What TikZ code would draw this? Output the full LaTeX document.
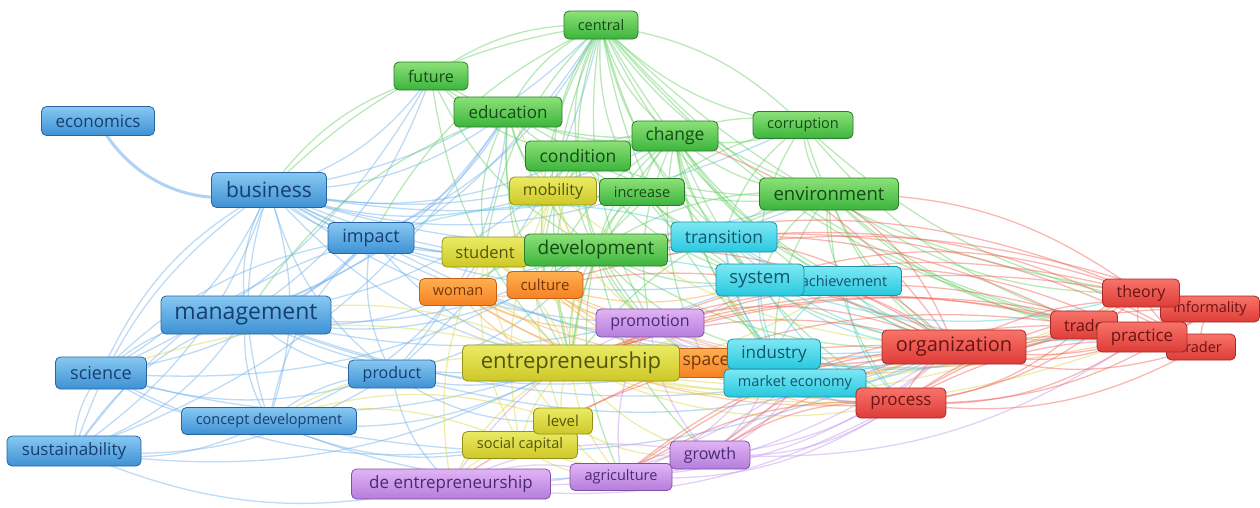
\documentclass[tikz,border=0pt]{standalone}
\usepackage{fontspec}
\setmainfont{Open Sans}
\usepackage{tikz}
\usetikzlibrary{shadings}

\pgfdeclarelayer{links}
\pgfsetlayers{links,main}

\newcommand\kwfont[1]{\fontsize{#1}{#1}\selectfont}

\definecolor{bTop}{RGB}{135,200,242}\definecolor{bBot}{RGB}{62,145,212}
\definecolor{bLine}{RGB}{40,100,160}\definecolor{bText}{RGB}{22,62,110}
\definecolor{bLink}{RGB}{110,175,235}
\definecolor{gTop}{RGB}{140,225,120}\definecolor{gBot}{RGB}{60,180,60}
\definecolor{gLine}{RGB}{40,125,40}\definecolor{gText}{RGB}{20,75,20}
\definecolor{gLink}{RGB}{100,205,100}
\definecolor{yTop}{RGB}{235,235,100}\definecolor{yBot}{RGB}{205,200,40}
\definecolor{yLine}{RGB}{150,145,20}\definecolor{yText}{RGB}{85,85,10}
\definecolor{yLink}{RGB}{215,215,70}
\definecolor{oTop}{RGB}{255,175,80}\definecolor{oBot}{RGB}{245,130,35}
\definecolor{oLine}{RGB}{195,95,25}\definecolor{oText}{RGB}{115,55,10}
\definecolor{oLink}{RGB}{250,160,70}
\definecolor{pTop}{RGB}{225,180,245}\definecolor{pBot}{RGB}{180,125,220}
\definecolor{pLine}{RGB}{130,80,170}\definecolor{pText}{RGB}{75,40,115}
\definecolor{pLink}{RGB}{195,150,235}
\definecolor{cTop}{RGB}{125,232,245}\definecolor{cBot}{RGB}{40,200,222}
\definecolor{cLine}{RGB}{30,140,165}\definecolor{cText}{RGB}{20,85,105}
\definecolor{cLink}{RGB}{70,205,225}
\definecolor{rTop}{RGB}{248,115,105}\definecolor{rBot}{RGB}{222,60,55}
\definecolor{rLine}{RGB}{165,40,40}\definecolor{rText}{RGB}{105,20,20}
\definecolor{rLink}{RGB}{242,95,85}

\tikzset{
  term/.style={rounded corners=5pt,inner sep=0pt,line width=0.8pt},
  blueterm/.style={term,draw=bLine,top color=bTop,bottom color=bBot,text=bText},
  greenterm/.style={term,draw=gLine,top color=gTop,bottom color=gBot,text=gText},
  yellowterm/.style={term,draw=yLine,top color=yTop,bottom color=yBot,text=yText},
  orangeterm/.style={term,draw=oLine,top color=oTop,bottom color=oBot,text=oText},
  purpleterm/.style={term,draw=pLine,top color=pTop,bottom color=pBot,text=pText},
  cyanterm/.style={term,draw=cLine,top color=cTop,bottom color=cBot,text=cText},
  redterm/.style={term,draw=rLine,top color=rTop,bottom color=rBot,text=rText},
  links/.style={every edge/.style={draw=#1,line width=1.3pt,draw opacity=.45,bend right=18}},
}

\begin{document}
\begin{tikzpicture}[x=1pt,y=-1pt]
\useasboundingbox (0,0) rectangle (1260,507);
%% blue
\node (economics) at (98,121) [blueterm,minimum width=113pt,minimum height=29pt,font=\kwfont{17}] {economics};
\node (business) at (269,190) [blueterm,minimum width=115pt,minimum height=35pt,font=\kwfont{21}] {business};
\node (impact) at (371,238) [blueterm,minimum width=86pt,minimum height=31pt,font=\kwfont{18}] {impact};
\node (management) at (246,315) [blueterm,minimum width=170pt,minimum height=38pt,font=\kwfont{23}] {management};
\node (science) at (101,373) [blueterm,minimum width=91pt,minimum height=32pt,font=\kwfont{18}] {science};
\node (product) at (392,374) [blueterm,minimum width=87pt,minimum height=28pt,font=\kwfont{16}] {product};
\node (conceptdev) at (269,421) [blueterm,minimum width=175pt,minimum height=27pt,font=\kwfont{14.5}] {concept development};
\node (sustainability) at (74,451) [blueterm,minimum width=134pt,minimum height=30pt,font=\kwfont{17}] {sustainability};
%% green
\node (central) at (601,25) [greenterm,minimum width=74pt,minimum height=28pt,font=\kwfont{14.5}] {central};
\node (future) at (431,76) [greenterm,minimum width=74pt,minimum height=28pt,font=\kwfont{16}] {future};
\node (education) at (508,112) [greenterm,minimum width=108pt,minimum height=30pt,font=\kwfont{17}] {education};
\node (change) at (675,136) [greenterm,minimum width=86pt,minimum height=30pt,font=\kwfont{17.5}] {change};
\node (corruption) at (803,125) [greenterm,minimum width=100pt,minimum height=27pt,font=\kwfont{14.5}] {corruption};
\node (condition) at (578,156) [greenterm,minimum width=105pt,minimum height=30pt,font=\kwfont{17.5}] {condition};
\node (increase) at (642,192) [greenterm,minimum width=85pt,minimum height=27pt,font=\kwfont{14.5}] {increase};
\node (environment) at (829,194) [greenterm,minimum width=139pt,minimum height=32pt,font=\kwfont{18.5}] {environment};
%% yellow
\node (mobility) at (553,191) [yellowterm,minimum width=87pt,minimum height=28pt,font=\kwfont{16}] {mobility};
\node (student) at (485,252) [yellowterm,minimum width=86pt,minimum height=30pt,font=\kwfont{16.5}] {student};
\node (development) at (596,250) [greenterm,minimum width=143pt,minimum height=32pt,font=\kwfont{19}] {development};
\node (socialcap) at (520,445) [yellowterm,minimum width=115pt,minimum height=27pt,font=\kwfont{14.5}] {social capital};
\node (level) at (563,421) [yellowterm,minimum width=59pt,minimum height=26pt,font=\kwfont{15}] {level};
%% orange
\node (woman) at (458,292) [orangeterm,minimum width=77pt,minimum height=27pt,font=\kwfont{14.5}] {woman};
\node (culture) at (545,285) [orangeterm,minimum width=76pt,minimum height=27pt,font=\kwfont{15}] {culture};
\node (space) at (706,363) [orangeterm,minimum width=72pt,minimum height=29pt,font=\kwfont{17.5}] {space};
\node (entrepreneurship) at (571,363) [yellowterm,minimum width=217pt,minimum height=36pt,font=\kwfont{22}] {entrepreneurship};
%% purple
\node (promotion) at (650,323) [purpleterm,minimum width=108pt,minimum height=28pt,font=\kwfont{16}] {promotion};
\node (deentre) at (451,484) [purpleterm,minimum width=199pt,minimum height=30pt,font=\kwfont{17}] {de entrepreneurship};
\node (agriculture) at (621,477) [purpleterm,minimum width=102pt,minimum height=27pt,font=\kwfont{14.5}] {agriculture};
\node (growth) at (710,455) [purpleterm,minimum width=80pt,minimum height=28pt,font=\kwfont{16}] {growth};
%% cyan
\node (transition) at (724,237) [cyanterm,minimum width=106pt,minimum height=30pt,font=\kwfont{17.5}] {transition};
\node (achievement) at (844,281) [cyanterm,minimum width=115pt,minimum height=29pt,font=\kwfont{14.5}] {achievement};
\node (system) at (760,280) [cyanterm,minimum width=88pt,minimum height=32pt,font=\kwfont{18.5}] {system};
\node (marketeco) at (795,383) [cyanterm,minimum width=142pt,minimum height=28pt,font=\kwfont{14.5}] {market economy};
\node (industry) at (774,354) [cyanterm,minimum width=93pt,minimum height=30pt,font=\kwfont{17}] {industry};
%% red
\node (process) at (901,403) [redterm,minimum width=90pt,minimum height=30pt,font=\kwfont{17}] {process};
\node (organization) at (954,347) [redterm,minimum width=144pt,minimum height=34pt,font=\kwfont{20}] {organization};
\node (informality) at (1210,309) [redterm,minimum width=99pt,minimum height=26pt,font=\kwfont{14.5}] {informality};
\node (theory) at (1141,293) [redterm,minimum width=77pt,minimum height=28pt,font=\kwfont{16}] {theory};
\node (trade) at (1084,325) [redterm,minimum width=67pt,minimum height=28pt,font=\kwfont{16}] {trade};
\node (trader) at (1201,347) [redterm,minimum width=69pt,minimum height=26pt,font=\kwfont{14.5}] {trader};
\node (practice) at (1142,337) [redterm,minimum width=90pt,minimum height=30pt,font=\kwfont{17}] {practice};
%%
\begin{pgfonlayer}{links}
\draw [bLink,line width=3pt,opacity=.55] (economics.center) to[bend right=40] (business.center);
\begin{scope}[links=bLink]
\path (business.center) edge (impact.center) edge (management.center) edge (science.center)
  edge (sustainability.center) edge (conceptdev.center) edge (product.center)
  edge (entrepreneurship.center) edge (development.center) edge (education.center)
  edge (condition.center) edge (central.center) edge (future.center) edge (change.center)
  edge (environment.center) edge (organization.center) edge (system.center)
  edge (student.center) edge (mobility.center) edge (transition.center) edge (promotion.center)
  edge (increase.center) edge (corruption.center);
\path (management.center) edge (science.center) edge (sustainability.center) edge (conceptdev.center)
  edge (product.center) edge (impact.center) edge (entrepreneurship.center) edge (development.center)
  edge (organization.center) edge (culture.center) edge (woman.center) edge (system.center)
  edge (industry.center) edge (condition.center) edge (central.center) edge (education.center)
  edge (future.center);
\path (impact.center) edge (product.center) edge (entrepreneurship.center) edge (development.center)
  edge (education.center) edge (environment.center) edge (organization.center)
  edge (science.center) edge (conceptdev.center) edge (sustainability.center) edge (central.center);
\path (science.center) edge (sustainability.center) edge (conceptdev.center) edge (product.center)
  edge (entrepreneurship.center) edge (development.center) edge (socialcap.center)
  edge (business.center) edge (future.center) edge (impact.center);
\path (sustainability.center) edge (conceptdev.center) edge (product.center)
  edge (entrepreneurship.center) edge (management.center) edge (business.center)
  edge (education.center) edge (deentre.center);
\path (product.center) edge (entrepreneurship.center) edge (development.center)
  edge (conceptdev.center) edge (organization.center) edge (level.center) edge (deentre.center)
  edge (central.center) edge (education.center);
\path (conceptdev.center) edge (entrepreneurship.center) edge (socialcap.center)
  edge (growth.center) edge (organization.center) edge (business.center) edge (student.center);
\end{scope}
\begin{scope}[links=gLink]
\path (central.center) edge (education.center) edge (change.center) edge (condition.center)
  edge (development.center) edge (environment.center) edge (corruption.center)
  edge (increase.center) edge (mobility.center) edge (entrepreneurship.center)
  edge (organization.center) edge (business.center) edge (transition.center)
  edge (system.center) edge (industry.center) edge (practice.center) edge (trade.center)
  edge (future.center) edge (student.center) edge (culture.center) edge (promotion.center)
  edge (achievement.center) edge (impact.center) edge (theory.center);
\path (future.center) edge (education.center) edge (business.center) edge (development.center)
  edge (entrepreneurship.center) edge (condition.center) edge (change.center);
\path (education.center) edge (condition.center) edge (development.center)
  edge (entrepreneurship.center) edge (student.center) edge (mobility.center)
  edge (culture.center) edge (management.center) edge (change.center) edge (environment.center);
\path (change.center) edge (condition.center) edge (development.center) edge (environment.center)
  edge (increase.center) edge (transition.center) edge (system.center) edge (industry.center)
  edge (entrepreneurship.center) edge (organization.center) edge (marketeco.center)
  edge (promotion.center) edge (achievement.center) edge (space.center) edge (mobility.center)
  edge (process.center) edge (corruption.center) edge (culture.center);
\path (corruption.center) edge (environment.center) edge (organization.center)
  edge (development.center) edge (change.center) edge (system.center) edge (informality.center)
  edge (central.center) edge (transition.center) edge (practice.center);
\path (condition.center) edge (development.center) edge (mobility.center) edge (increase.center)
  edge (entrepreneurship.center) edge (culture.center) edge (promotion.center)
  edge (environment.center) edge (system.center);
\path (environment.center) edge (development.center) edge (organization.center)
  edge (system.center) edge (transition.center) edge (theory.center) edge (practice.center)
  edge (entrepreneurship.center) edge (process.center) edge (trade.center)
  edge (achievement.center) edge (industry.center);
\path (development.center) edge (entrepreneurship.center) edge (system.center)
  edge (organization.center) edge (promotion.center) edge (culture.center) edge (woman.center)
  edge (student.center) edge (space.center) edge (growth.center) edge (agriculture.center)
  edge (transition.center) edge (industry.center);
\path (increase.center) edge (development.center) edge (transition.center)
  edge (entrepreneurship.center) edge (system.center) edge (organization.center);
\end{scope}
\begin{scope}[links=yLink]
\path (entrepreneurship.center) edge (level.center) edge (socialcap.center) edge (student.center)
  edge (mobility.center) edge (woman.center) edge (culture.center) edge (space.center)
  edge (promotion.center) edge (industry.center) edge (marketeco.center)
  edge (organization.center) edge (process.center) edge (growth.center)
  edge (agriculture.center) edge (deentre.center) edge (system.center)
  edge (achievement.center) edge (practice.center) edge (trade.center) edge (theory.center)
  edge (management.center) edge (science.center) edge (conceptdev.center) edge (education.center);
\path (student.center) edge (mobility.center) edge (culture.center) edge (level.center)
  edge (socialcap.center) edge (promotion.center) edge (deentre.center);
\path (mobility.center) edge (culture.center) edge (promotion.center) edge (level.center)
  edge (socialcap.center) edge (organization.center);
\path (socialcap.center) edge (level.center) edge (deentre.center) edge (agriculture.center)
  edge (conceptdev.center) edge (growth.center);
\path (level.center) edge (growth.center) edge (agriculture.center) edge (conceptdev.center);
\end{scope}
\begin{scope}[links=oLink]
\path (woman.center) edge (culture.center) edge (entrepreneurship.center) edge (space.center)
  edge (promotion.center) edge (organization.center) edge (process.center);
\path (culture.center) edge (space.center) edge (promotion.center) edge (organization.center)
  edge (system.center) edge (process.center) edge (practice.center);
\path (space.center) edge (industry.center) edge (organization.center) edge (process.center)
  edge (marketeco.center) edge (theory.center);
\end{scope}
\begin{scope}[links=pLink]
\path (promotion.center) edge (growth.center) edge (agriculture.center) edge (deentre.center)
  edge (organization.center) edge (process.center) edge (industry.center) edge (system.center)
  edge (marketeco.center);
\path (growth.center) edge (agriculture.center) edge (deentre.center) edge (process.center)
  edge (organization.center) edge (marketeco.center) edge (industry.center) edge (practice.center);
\path (agriculture.center) edge (deentre.center) edge (process.center)
  edge (organization.center) edge (marketeco.center) edge (industry.center);
\path (deentre.center) edge (process.center) edge (organization.center) edge (marketeco.center);
\end{scope}
\begin{scope}[links=cLink]
\path (transition.center) edge (system.center) edge (achievement.center) edge (industry.center)
  edge (marketeco.center) edge (organization.center) edge (practice.center) edge (impact.center);
\path (system.center) edge (achievement.center) edge (industry.center)
  edge (organization.center) edge (marketeco.center) edge (process.center) edge (theory.center)
  edge (woman.center);
\path (achievement.center) edge (organization.center) edge (industry.center) edge (process.center);
\path (industry.center) edge (marketeco.center) edge (organization.center)
  edge (process.center) edge (trade.center);
\path (marketeco.center) edge (organization.center) edge (process.center);
\end{scope}
\begin{scope}[links=rLink]
\path (organization.center) edge (process.center) edge (theory.center) edge (trade.center)
  edge (informality.center) edge (practice.center) edge (trader.center) edge (system.center)
  edge (development.center) edge (entrepreneurship.center) edge (transition.center)
  edge (change.center) edge (culture.center) edge (growth.center) edge (agriculture.center)
  edge (deentre.center) edge (promotion.center) edge (environment.center);
\path (process.center) edge (practice.center) edge (trade.center) edge (trader.center)
  edge (informality.center) edge (theory.center) edge (growth.center) edge (agriculture.center);
\path (theory.center) edge (trade.center) edge (informality.center) edge (practice.center)
  edge (trader.center) edge (environment.center) edge (development.center)
  edge (promotion.center) edge (system.center);
\path (trade.center) edge (practice.center) edge (informality.center) edge (trader.center)
  edge (entrepreneurship.center) edge (development.center) edge (level.center)
  edge (agriculture.center);
\path (practice.center) edge (informality.center) edge (trader.center)
  edge (entrepreneurship.center) edge (system.center) edge (growth.center)
  edge (promotion.center) edge (process.center);
\path (informality.center) edge (trader.center) edge (organization.center)
  edge (entrepreneurship.center) edge (process.center) edge (culture.center);
\path (trader.center) edge (entrepreneurship.center) edge (development.center)
  edge (process.center) edge (transition.center);
\end{scope}
\end{pgfonlayer}
%
\end{tikzpicture}
\end{document}
